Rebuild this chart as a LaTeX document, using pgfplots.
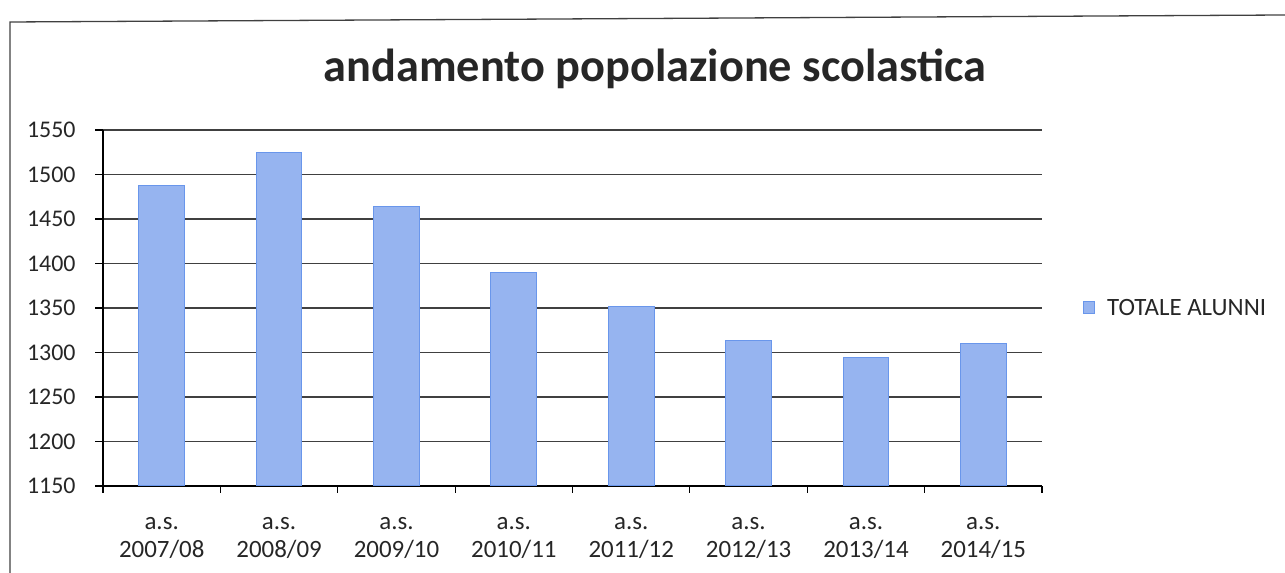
\documentclass[border=0pt]{standalone}
\usepackage{pgfplots}
\pgfplotsset{compat=1.18}
\usepackage{fontspec}
\setmainfont{Carlito}
\definecolor{barfill}{RGB}{150,180,240}
\definecolor{baredge}{RGB}{105,150,235}
\begin{document}
\begin{tikzpicture}[x=1bp,y=1bp]
\useasboundingbox (0,0) rectangle (1285,573);
\draw[line width=1.3bp, black!75] (10,0) -- (10,551) -- (1285,558);
\node[font=\fontsize{46.5}{54}\selectfont\bfseries, text=black!85] at (655,504) {andamento popolazione scolastica};
\begin{axis}[
  at={(103bp,87bp)}, anchor=south west,
  scale only axis, width=939bp, height=356bp,
  xmin=-0.5, xmax=7.5, ymin=1150, ymax=1550,
  ytick={1150,1200,...,1550},
  xtick={0,...,7},
  xticklabels={{a.s.\\2007/08},{a.s.\\2008/09},{a.s.\\2009/10},{a.s.\\2010/11},{a.s.\\2011/12},{a.s.\\2012/13},{a.s.\\2013/14},{a.s.\\2014/15}},
  minor xtick={-0.5,0.5,...,7.5},
  axis x line*=bottom, axis y line*=left,
  tick align=outside,
  major tick length=8bp, minor tick length=7bp,
  x tick style={draw=none},
  minor x tick style={draw=black, line width=1.2bp},
  y tick style={black, line width=1.2bp},
  axis line style={black, line width=1.3bp},
  ymajorgrids, grid style={black!75, line width=1.1bp},
  x tick label style={align=center, font=\fontsize{25}{28}\selectfont, text=black!85, yshift=-20bp},
  y tick label style={font=\fontsize{24}{28}\selectfont, text=black!85, xshift=-16bp},
  /pgf/number format/assume math mode=true,
  /pgf/number format/1000 sep={},
  legend style={at={(1.0437,0.5)}, anchor=west, draw=none, fill=none,
    font=\fontsize{25}{28}\selectfont, text=black!85, inner sep=0pt,
    /tikz/every odd column/.append style={column sep=10bp}},
  legend image code/.code={\fill[barfill, draw=baredge] (0bp,-6bp) rectangle (11bp,6bp);},
]
\addplot[ybar, bar width=0.39, fill=barfill, draw=baredge, line width=1bp]
  coordinates {(0,1488) (1,1525) (2,1464) (3,1390) (4,1352) (5,1313) (6,1294) (7,1310)};
\addlegendentry{TOTALE ALUNNI}
\end{axis}
\end{tikzpicture}
\end{document}
